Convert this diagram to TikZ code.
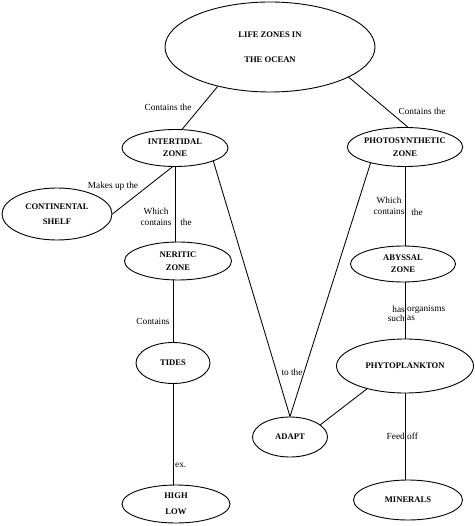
\documentclass[tikz,border=0pt]{standalone}
\usepackage{fontspec}
\setmainfont{Liberation Serif}
\usetikzlibrary{shapes.geometric}
\tikzset{
  zone/.style={draw, ellipse, line width=0.9pt, inner sep=0pt, align=center,
    font=\fontsize{8.6}{10.4}\selectfont\bfseries},
  lbl/.style={inner sep=0pt, font=\fontsize{9.3}{11}\selectfont},
  link/.style={line width=0.85pt}
}
\begin{document}
\begin{tikzpicture}[x=1pt,y=-1pt]
\useasboundingbox (0,0) rectangle (474,526);
% nodes
\node[zone, minimum width=210pt, minimum height=90pt] (main) at (270,47) {LIFE ZONES IN\\[14pt]THE OCEAN};
\node[zone, minimum width=106pt, minimum height=37pt] (inter) at (175,148) {INTERTIDAL\\[1.5pt]ZONE};
\node[zone, minimum width=100pt, minimum height=39pt] (photo) at (405,147) {PHOTOSYNTHETIC\\[2.5pt]ZONE};
\node[zone, minimum width=110pt, minimum height=52pt] (shelf) at (57,214) {CONTINENTAL\\[4.5pt]SHELF};
\node[zone, minimum width=107pt, minimum height=38pt] (neritic) at (178,261) {NERITIC\\[2.5pt]ZONE};
\node[zone, minimum width=74pt, minimum height=41pt] (tides) at (173,363) {TIDES};
\node[zone, minimum width=108pt, minimum height=38pt] (highlow) at (176,504) {HIGH\\[5.5pt]LOW};
\node[zone, minimum width=75pt, minimum height=40pt] (adapt) at (290,437) {ADAPT};
\node[zone, minimum width=105pt, minimum height=36pt] (abyssal) at (403,264) {ABYSSAL\\[1.5pt]ZONE};
\node[zone, minimum width=137pt, minimum height=54pt] (phyto) at (405,366) {PHYTOPLANKTON};
\node[zone, minimum width=109pt, minimum height=40pt] (minerals) at (408,500) {MINERALS};
% connectors
\draw[link] (main.217) -- (inter.69);
\draw[link] (main.339) -- (photo.82);
\draw[link] (shelf.east) -- (inter.262);
\draw[link] (inter.south) -- (inter.south |- neritic.north);
\draw[link] (tides.north |- neritic.south) -- (tides.north);
\draw[link] (tides.south) -- (tides.south |- highlow.north);
\draw[link] (inter.341) -- (adapt.north);
\draw[link] (photo.205) -- (adapt.north);
\draw[link] (photo.south) -- (photo.south |- abyssal.north);
\draw[link] (phyto.north |- abyssal.south) -- (phyto.north);
\draw[link] (phyto.211) -- (adapt.22);
\draw[link] (phyto.south) -- (phyto.south |- minerals.north);
% labels
\node[lbl] (l1) at (168,107) {Contains the};
\node[lbl] (l2) at (422,111) {Contains the};
\node[lbl] (l3) at (113,186) {Makes up the};
\node[lbl, align=center] (l4) at (156,217) {Which\\contains};
\node[lbl] (l5) at (186,222) {the};
\node[lbl] (l6) at (153,321) {Contains};
\node[lbl, anchor=west] (l7) at (175,465) {ex.};
\node[lbl] (l8) at (292,372) {to the};
\node[lbl, align=center] (l9) at (389,206) {Which\\contains};
\node[lbl] (l10) at (417,212) {the};
\node[lbl, anchor=east] (l11) at (405,309) {has};
\node[lbl, anchor=west] (l12) at (407,309) {organisms};
\node[lbl, anchor=east] (l13) at (405,318) {such};
\node[lbl, anchor=west] (l14) at (407,318) {as};
\node[lbl, anchor=east] (l15) at (405,436) {Feed};
\node[lbl, anchor=west] (l16) at (407,436) {off};
\end{tikzpicture}
\end{document}
